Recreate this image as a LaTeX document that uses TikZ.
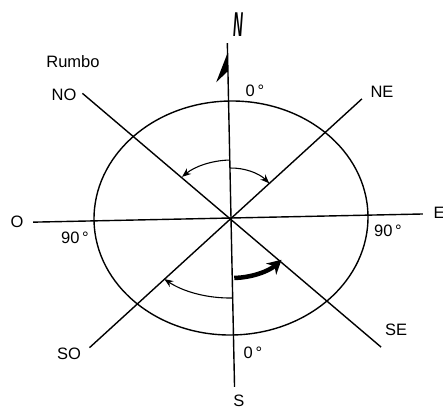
\documentclass[tikz,border=0pt]{standalone}
\usepackage{fontspec}
\setmainfont{Liberation Sans}
\usetikzlibrary{arrows.meta}

\begin{document}
\begin{tikzpicture}[
    x=1pt, y=1pt,
    font=\fontsize{16.5}{19}\selectfont,
    rayline/.style={line width=1.4pt},
    ring/.style={line width=1.4pt},
    bearing/.style={-{Stealth[length=9pt,width=7pt]}, line width=1.1pt},
    bearingbold/.style={-{Stealth[length=14pt,width=15pt]}, line width=4.5pt},
    tag/.style={inner sep=0pt}
]
\useasboundingbox (-231,-195) rectangle (212,218);

\begin{scope}[rotate=1.2]
\coordinate (C) at (0,0);
\coordinate (Ntop) at (0,175);
\coordinate (Sbot) at (0,-169);
\coordinate (Wend) at (-198,0);
\coordinate (Eend) at (192,0);
\coordinate (NOend) at (138.8:194);
\coordinate (SEend) at (318.1:198);
\coordinate (NEend) at (41.1:177);
\coordinate (SOend) at (221.3:192);

\draw[ring] (C) ellipse[x radius=137, y radius=117];
\draw[rayline] (Ntop) -- (Sbot);
\draw[rayline] (Wend) -- (Eend);
\draw[rayline] (NOend) -- (SEend);
\draw[rayline] (NEend) -- (SOend);

% half head on the north line
\fill (0,165) -- (-12,136) -- (-1,146) -- cycle;

% bearings
\draw[bearing] (0,58) arc[start angle=90, end angle=133.4, x radius=70, y radius=58];
\draw[bearing] (0,50) arc[start angle=90, end angle=42.7, x radius=53, y radius=50];
\draw[bearingbold] (2,-60) arc[start angle=270, end angle=314.5, x radius=68, y radius=60];
\draw[bearing] (0,-80) arc[start angle=270, end angle=228.2, x radius=102, y radius=80];
\end{scope}

\node[tag] (rumbo) at (-158,156) {Rumbo};
\node[tag] (no) at (-167,123) {NO};
\node[tag] (ne) at (151,126) {NE};
\node[tag] (se) at (165,-112) {SE};
\node[tag] (so) at (-162,-136) {SO};
\node[tag] (o) at (-214,-4) {O};
\node[tag] (e) at (208,5) {E};
\node[tag] (s) at (8,-183) {S};
\node[tag] (westdeg) at (-156,-20) {90\,°};
\node[tag] (eastdeg) at (157,-13) {90\,°};
\node[tag] (northdeg) at (24,127) {0\,°};
\node[tag] (southdeg) at (22,-135) {0\,°};
\node[tag, font=\fontsize{15}{18}\selectfont\bfseries\itshape, xscale=0.9, yscale=2.3] (nletter) at (7,193) {N};
\end{tikzpicture}
\end{document}
